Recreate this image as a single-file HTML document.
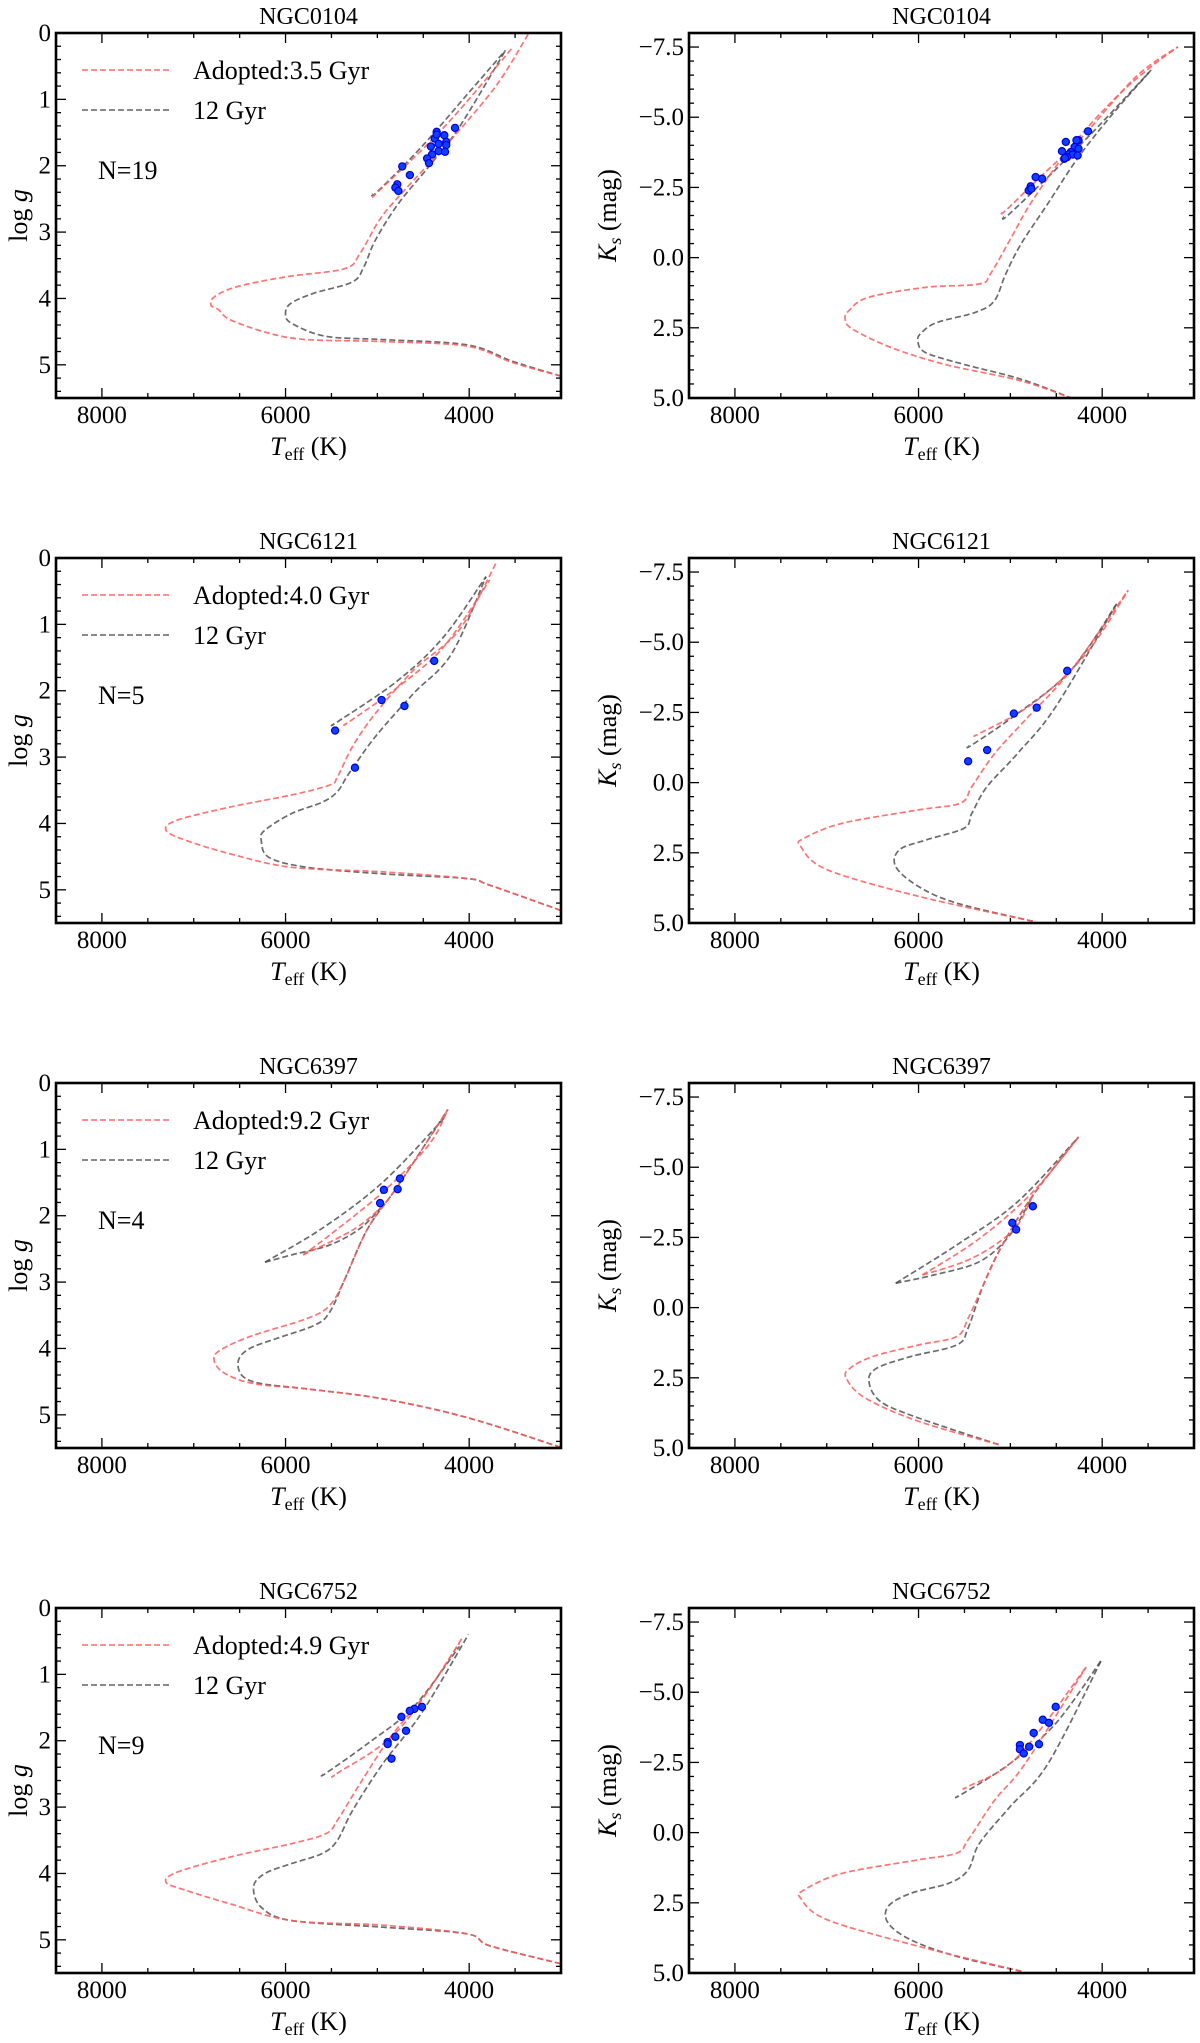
<!DOCTYPE html>
<html><head><meta charset="utf-8">
<style>
html,body{margin:0;padding:0;background:#fff;}
svg{display:block;font-family:"Liberation Serif",serif;}
svg text{font-family:"Liberation Serif",serif;}
</style></head>
<body>
<svg id="fig" width="1200" height="2043" viewBox="0 0 1200 2043" xmlns="http://www.w3.org/2000/svg" font-family="Liberation Serif, serif"></svg>
<script>
// ---------- DATA ----------
// NGC0104 logg
const n0104_g_red = [[3000,5.17],[3521,4.97],[4021,4.72],[4938,4.65],[5771,4.62],[6188,4.52],[6604,4.32],[6729,4.17],[6813,4.10],[6771,3.97],[6521,3.82],[5979,3.67],[5354,3.55],[5188,3.32],[4979,2.82],[4771,2.47],[4438,1.97],[4104,1.46],[3688,0.76],[3354,0.01]];
const n0104_g_red_agb = [[5042,2.47],[5000,2.40],[4521,1.77],[4104,1.16],[3521,0.21]];
const n0104_g_grey = [[3000,5.17],[3521,4.95],[4021,4.70],[4938,4.62],[5563,4.57],[5938,4.37],[6000,4.22],[5938,4.07],[5688,3.92],[5271,3.75],[5146,3.52],[5021,3.12],[4771,2.57],[4438,2.01],[4104,1.41],[3604,0.26]];
const n0104_g_grey_agb = [[5060,2.43],[5000,2.39],[4521,1.72],[3980,0.86],[3604,0.26]];
const n0104_g_stars = [[4154,1.43],[4354,1.49],[4271,1.54],[4375,1.59],[4250,1.64],[4333,1.67],[4250,1.69],[4417,1.71],[4333,1.78],[4263,1.79],[4404,1.83],[4458,1.89],[4438,1.96],[4729,2.01],[4646,2.14],[4783,2.28],[4804,2.33],[4771,2.38],[4354,1.53]];
// NGC0104 Ks
const n0104_k_red = [[4321,5.02],[4883,4.39],[5717,3.80],[6300,3.20],[6717,2.55],[6800,2.19],[6758,1.89],[6550,1.42],[5925,1.06],[5342,0.94],[5217,0.58],[5008,-0.61],[4758,-2.04],[4342,-3.94],[3842,-5.73],[3467,-6.80],[3175,-7.51]];
const n0104_k_red_agb = [[5100,-1.60],[5050,-1.68],[4675,-2.87],[4217,-4.30],[3633,-6.44],[3175,-7.51]];
const n0104_k_grey = [[4321,5.02],[4883,4.33],[5508,3.80],[5925,3.38],[6008,2.96],[5967,2.67],[5800,2.31],[5383,1.95],[5175,1.54],[5050,0.58],[4883,-0.49],[4592,-1.92],[4258,-3.58],[3883,-5.13],[3467,-6.68]];
const n0104_k_grey_agb = [[5080,-1.45],[5029,-1.50],[4550,-3.00],[4050,-4.65],[3467,-6.68]];
const n0104_k_stars = [[4154,-4.50],[4258,-4.18],[4280,-4.18],[4396,-4.12],[4300,-3.94],[4258,-3.88],[4438,-3.79],[4342,-3.76],[4363,-3.68],[4321,-3.67],[4267,-3.64],[4383,-3.58],[4413,-3.52],[4725,-2.87],[4654,-2.81],[4779,-2.54],[4800,-2.39],[4771,-2.45],[4405,-3.55]];
// NGC6121 logg
const n6121_g_red = [[3003,5.31],[3775,4.93],[4025,4.83],[4937,4.73],[5933,4.66],[6597,4.46],[7095,4.25],[7303,4.10],[7178,3.95],[6597,3.75],[5933,3.57],[5518,3.42],[5435,3.30],[5270,2.84],[5020,2.34],[4605,1.69],[4107,1.08],[3709,0.08]];
const n6121_g_red_agb = [[5350,2.50],[5310,2.47],[4771,1.94],[4273,1.33],[3775,0.33]];
const n6121_g_grey = [[3003,5.31],[3775,4.93],[4025,4.83],[4937,4.76],[5767,4.66],[6182,4.51],[6265,4.25],[6224,4.10],[5933,3.85],[5601,3.68],[5435,3.52],[5311,3.25],[5020,2.69],[4605,2.04],[4190,1.44],[3817,0.28]];
const n6121_g_grey_agb = [[5480,2.50],[5435,2.47],[4771,1.84],[4273,1.18],[3817,0.28]];
const n6121_g_stars = [[4381,1.55],[4954,2.14],[4705,2.23],[5460,2.60],[5244,3.16]];
// NGC6121 Ks
const n6121_k_red = [[4755,4.94],[6000,4.05],[6996,3.10],[7286,2.27],[7245,1.98],[6830,1.45],[6000,0.97],[5543,0.73],[5419,0.14],[5170,-1.04],[4838,-2.23],[4340,-4.00],[3717,-6.85]];
const n6121_k_red_agb = [[5380,-1.70],[5336,-1.75],[4755,-2.82],[4174,-4.60],[3717,-6.85]];
const n6121_k_grey = [[4755,4.94],[5585,4.29],[6000,3.70],[6249,2.99],[6207,2.39],[5917,2.04],[5502,1.62],[5419,1.09],[5253,0.14],[4921,-1.04],[4506,-2.70],[3842,-6.37]];
const n6121_k_grey_agb = [[5460,-1.30],[5419,-1.34],[4921,-2.46],[4340,-4.00],[3842,-6.37]];
const n6121_k_stars = [[4381,-3.98],[4713,-2.67],[4962,-2.46],[5253,-1.16],[5460,-0.76]];
// NGC6397 logg
const n6397_g_red = [[3003,5.49],[4025,5.04],[4937,4.76],[5767,4.61],[6348,4.53],[6680,4.36],[6780,4.15],[6680,4.00],[6348,3.80],[5767,3.55],[5518,3.35],[5352,2.95],[5103,2.19],[4771,1.54],[4232,0.40]];
const n6397_g_red_hb = [[5809,2.59],[5435,2.34],[5186,2.14],[4937,1.84],[4771,1.54]];
const n6397_g_red_agb = [[5809,2.59],[5518,2.29],[4937,1.64],[4439,0.93],[4232,0.40]];
const n6397_g_grey = [[3003,5.49],[4025,5.04],[4937,4.76],[5767,4.61],[6265,4.53],[6473,4.41],[6514,4.18],[6390,4.00],[6099,3.85],[5684,3.65],[5518,3.45],[5352,2.95],[5103,2.19],[4771,1.54],[4232,0.40]];
const n6397_g_grey_hb = [[6224,2.70],[5933,2.59],[5518,2.44],[5186,2.19],[4937,1.84]];
const n6397_g_grey_agb = [[6224,2.70],[5601,2.19],[4937,1.49],[4273,0.53]];
const n6397_g_stars = [[4754,1.44],[4779,1.60],[4929,1.61],[4970,1.81]];
// NGC6397 Ks
const n6397_k_red = [[5128,4.88],[6000,4.05],[6581,3.22],[6788,2.51],[6747,2.16],[6498,1.74],[6000,1.33],[5585,1.03],[5460,0.38],[5294,-0.81],[5087,-2.23],[4755,-4.00],[4257,-6.08]];
const n6397_k_red_hb = [[5958,-1.16],[5502,-1.64],[5170,-2.23],[4921,-2.94],[4755,-4.00]];
const n6397_k_red_agb = [[5958,-1.16],[5336,-2.46],[4755,-4.12],[4257,-6.08]];
const n6397_k_grey = [[5128,4.88],[6000,3.93],[6415,3.34],[6540,2.63],[6457,2.16],[6083,1.74],[5585,1.33],[5460,0.73],[5294,-0.81],[5087,-2.23],[4755,-4.00],[4257,-6.08]];
const n6397_k_grey_hb = [[6249,-0.87],[5834,-1.16],[5336,-1.64],[5004,-2.59],[4755,-4.00]];
const n6397_k_grey_agb = [[6249,-0.87],[5585,-2.23],[4921,-3.77],[4257,-6.08]];
const n6397_k_stars = [[4755,-3.61],[4979,-3.02],[4937,-2.78]];
// NGC6752 logg
const n6752_g_red = [[3003,5.36],[3775,5.09],[4025,4.91],[4937,4.78],[5933,4.71],[6597,4.46],[7095,4.25],[7303,4.13],[7178,3.98],[6597,3.75],[5933,3.55],[5560,3.40],[5435,3.20],[5186,2.64],[4854,1.94],[4439,1.23],[4066,0.43]];
const n6752_g_red_agb = [[5470,2.52],[5435,2.49],[4771,1.84],[4107,0.53]];
const n6752_g_grey = [[3003,5.36],[3775,5.09],[4025,4.91],[4937,4.81],[5933,4.71],[6265,4.51],[6348,4.20],[6224,4.00],[5933,3.85],[5601,3.70],[5435,3.50],[5270,3.05],[4937,2.34],[4522,1.59],[4008,0.40]];
const n6752_g_grey_agb = [[5600,2.51],[5560,2.49],[5103,2.04],[4605,1.49],[4107,0.58]];
const n6752_g_stars = [[4514,1.49],[4597,1.52],[4647,1.55],[4738,1.64],[4688,1.85],[4805,1.94],[4888,2.02],[4888,2.05],[4846,2.27]];
// NGC6752 Ks
const n6752_k_red = [[4879,4.94],[6000,4.05],[6996,3.10],[7286,2.33],[7245,2.04],[6830,1.45],[6000,0.97],[5585,0.73],[5460,0.26],[5170,-1.16],[4838,-2.46],[4174,-5.90]];
const n6752_k_red_agb = [[5500,-1.60],[5460,-1.64],[4921,-2.70],[4174,-5.90]];
const n6752_k_grey = [[4879,4.94],[5585,4.41],[6083,3.82],[6332,3.22],[6332,2.63],[6083,2.16],[5668,1.80],[5460,1.33],[5336,0.38],[5004,-0.92],[4589,-2.46],[4008,-6.14]];
const n6752_k_grey_agb = [[5580,-1.30],[5543,-1.34],[5004,-2.46],[4506,-3.89],[4008,-6.14]];
const n6752_k_stars = [[4506,-4.48],[4647,-4.02],[4580,-3.91],[4746,-3.55],[4688,-3.15],[4896,-3.12],[4896,-2.97],[4796,-3.06],[4854,-2.82]];

const clusterNames = ["NGC0104","NGC6121","NGC6397","NGC6752"];
const adoptedAges = ["3.5","4.0","9.2","4.9"];
const starCounts = [19,5,4,9];
const xTicks = [8000,6000,4000];
const gTicks = [0,1,2,3,4,5];
const kTicks = [-7.5,-5.0,-2.5,0.0,2.5,5.0];

const panels = [
 {row:0,col:0,red:[n0104_g_red,n0104_g_red_agb],grey:[n0104_g_grey,n0104_g_grey_agb],stars:n0104_g_stars},
 {row:0,col:1,red:[n0104_k_red,n0104_k_red_agb],grey:[n0104_k_grey,n0104_k_grey_agb],stars:n0104_k_stars},
 {row:1,col:0,red:[n6121_g_red,n6121_g_red_agb],grey:[n6121_g_grey,n6121_g_grey_agb],stars:n6121_g_stars},
 {row:1,col:1,red:[n6121_k_red,n6121_k_red_agb],grey:[n6121_k_grey,n6121_k_grey_agb],stars:n6121_k_stars},
 {row:2,col:0,red:[n6397_g_red,n6397_g_red_hb,n6397_g_red_agb],grey:[n6397_g_grey,n6397_g_grey_hb,n6397_g_grey_agb],stars:n6397_g_stars},
 {row:2,col:1,red:[n6397_k_red,n6397_k_red_hb,n6397_k_red_agb],grey:[n6397_k_grey,n6397_k_grey_hb,n6397_k_grey_agb],stars:n6397_k_stars},
 {row:3,col:0,red:[n6752_g_red,n6752_g_red_agb],grey:[n6752_g_grey,n6752_g_grey_agb],stars:n6752_g_stars},
 {row:3,col:1,red:[n6752_k_red,n6752_k_red_agb],grey:[n6752_k_grey,n6752_k_grey_agb],stars:n6752_k_stars}
];

// ---------- DRAW ----------
const NS="http://www.w3.org/2000/svg";
const FONT='"Liberation Serif", serif';
const svg=document.getElementById('fig');
function mk(tag,attrs,parent){const e=document.createElementNS(NS,tag);for(const k in attrs)e.setAttribute(k,attrs[k]);if(tag==='text')e.setAttribute('font-family',FONT);(parent||svg).appendChild(e);return e;}
function smooth(pts){
  let d='M'+pts[0][0].toFixed(1)+' '+pts[0][1].toFixed(1);
  for(let i=0;i<pts.length-1;i++){
    const p0=pts[Math.max(i-1,0)],p1=pts[i],p2=pts[i+1],p3=pts[Math.min(i+2,pts.length-1)];
    const c1=[p1[0]+(p2[0]-p0[0])/6,p1[1]+(p2[1]-p0[1])/6];
    const c2=[p2[0]-(p3[0]-p1[0])/6,p2[1]-(p3[1]-p1[1])/6];
    d+=` C${c1[0].toFixed(1)} ${c1[1].toFixed(1)} ${c2[0].toFixed(1)} ${c2[1].toFixed(1)} ${p2[0].toFixed(1)} ${p2[1].toFixed(1)}`;
  }
  return d;
}
const W=505,H=365;
const colX=[56,689], rowY=[33,558,1083,1608];

panels.forEach((p,pi)=>{
  const x0=colX[p.col], y0=rowY[p.row];
  const isK=p.col===1;
  const yMin=isK?-8:0, yMax=isK?5:5.5;
  const sx=t=>x0+(8500-t)/5500*W;
  const sy=v=>y0+(v-yMin)/(yMax-yMin)*H;
  const g=mk('g',{});
  
  
  mk('defs',{},g).innerHTML=`<clipPath id="c${pi}"><rect x="${x0}" y="${y0}" width="${W}" height="${H}"/></clipPath>`;
  const t=mk('text',{x:x0+W/2,y:y0-9,'text-anchor':'middle','font-size':24},g);
  t.textContent=clusterNames[p.row];
  
  
  const cg=mk('g',{'clip-path':`url(#c${pi})`},g);
  const draw=(arr,col,name)=>{
    const pts=arr.map(q=>[sx(q[0]),sy(q[1])]);
    const el=mk('path',{d:smooth(pts),fill:'none',stroke:col,'stroke-width':1.7,'stroke-dasharray':'6 3','stroke-linejoin':'round'},cg);
    
    
  };
  p.grey.forEach(a=>draw(a,'rgba(70,70,70,0.8)','isochrone-12gyr'));
  p.red.forEach(a=>draw(a,'rgba(255,90,90,0.85)','isochrone-adopted'));
  p.stars.forEach(s=>{
    const c=mk('circle',{cx:sx(s[0]),cy:sy(s[1]),r:3.6,fill:'#1040ff',stroke:'#0000dd','stroke-width':1.2},cg);
    
    
  });
  const tk=mk('g',{stroke:'#000','stroke-width':1.3},g);
  for(let v=3000;v<=8500;v+=500){
    const X=sx(v), L=(v%2000===0)?10:5;
    mk('line',{x1:X,y1:y0+H,x2:X,y2:y0+H-L},tk);
    mk('line',{x1:X,y1:y0,x2:X,y2:y0+L},tk);
  }
  const minorStep=isK?0.5:0.2;
  for(let v=yMin;v<=yMax+1e-6;v+=minorStep){
    const vv=Math.round(v*10)/10;
    const major=isK?(Math.abs(vv/2.5-Math.round(vv/2.5))<1e-6):(Math.abs(vv-Math.round(vv))<1e-6);
    const Y=sy(vv), L=major?10:5;
    mk('line',{x1:x0,y1:Y,x2:x0+L,y2:Y},tk);
    mk('line',{x1:x0+W,y1:Y,x2:x0+W-L,y2:Y},tk);
  }
  const fr=mk('rect',{x:x0,y:y0,width:W,height:H,fill:'none',stroke:'#000','stroke-width':2.6},g);
  
  
  xTicks.forEach(v=>{
    const e=mk('text',{x:sx(v),y:y0+H+25,'text-anchor':'middle','font-size':25},g);
    e.textContent=v;
    
    
  });
  (isK?kTicks:gTicks).forEach(v=>{
    const e=mk('text',{x:x0-5,y:sy(v)+8,'text-anchor':'end','font-size':25},g);
    e.textContent=isK?(v<0?'\u2212'+Math.abs(v).toFixed(1):v.toFixed(1)):String(v);
    
    
  });
  const xl=mk('text',{x:x0+W/2,y:y0+H+57,'text-anchor':'middle','font-size':26},g);
  xl.innerHTML='<tspan font-style="italic">T</tspan><tspan font-size="18" dy="5">eff</tspan><tspan dy="-5"> (K)</tspan>';
  
  
  const yc=y0+H/2;
  const lx=isK?x0-82:x0-38;
  const yl=mk('text',{x:0,y:0,'text-anchor':'middle','font-size':26,transform:`translate(${lx+9},${yc}) rotate(-90)`},g);
  yl.innerHTML=isK?'<tspan font-style="italic">K</tspan><tspan font-style="italic" font-size="18" dy="5">s</tspan><tspan dy="-5"> (mag)</tspan>':'log <tspan font-style="italic">g</tspan>';
  
  
  if(!isK){
    const lg=mk('g',{},g);
    
    
    const entries=[['rgba(255,90,90,0.9)','Adopted:'+adoptedAges[p.row]+' Gyr'],['rgba(70,70,70,0.85)','12 Gyr']];
    entries.forEach((en,i)=>{
      const yy=y0+37+i*40;
      mk('line',{x1:x0+26,y1:yy,x2:x0+113,y2:yy,stroke:en[0],'stroke-width':1.6,'stroke-dasharray':'6 3'},lg);
      const tx=mk('text',{x:x0+137,y:yy+9,'font-size':26},lg);
      tx.textContent=en[1];
      
      
    });
    const nt=mk('text',{x:x0+42,y:y0+146,'font-size':26},g);
    nt.textContent='N='+starCounts[p.row];
    
    
  }
});
</script>
</body></html>
